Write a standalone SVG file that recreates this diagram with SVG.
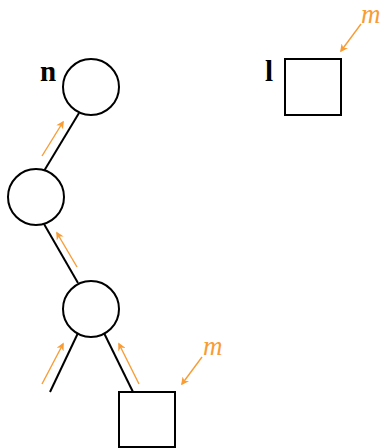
<svg xmlns="http://www.w3.org/2000/svg" width="388" height="448" viewBox="0 0 388 448">
<style>
.node{fill:#fff;stroke:#000;stroke-width:2}
.edge{stroke:#000;stroke-width:2;fill:none}
.msg{stroke:#f89c35;stroke-width:1.4;fill:none;marker-end:url(#ah)}
.lbl{font-family:"Liberation Serif",serif;font-weight:bold;font-size:29px;fill:#000}
.m{font-family:"Liberation Serif",serif;font-style:italic;font-size:27px;fill:#f89c35}
</style>
<defs>
<marker id="ah" viewBox="0 0 10 10" refX="8" refY="5" markerWidth="8" markerHeight="8" markerUnits="userSpaceOnUse" orient="auto">
<path d="M0,0 L10,5 L0,10 L3,5 Z" fill="#f89c35"/>
</marker>
</defs>
<g id="connectors">
<line class="edge" x1="79" y1="113" x2="44" y2="171"/>
<line class="edge" x1="44" y1="224" x2="78" y2="283"/>
<line class="edge" x1="78" y1="333" x2="50" y2="392"/>
<line class="edge" x1="104" y1="333" x2="133" y2="392"/>
<line class="msg" x1="42" y1="156" x2="63" y2="122"/>
<line class="msg" x1="77" y1="267" x2="57" y2="233"/>
<line class="msg" x1="42" y1="384" x2="63" y2="344"/>
<line class="msg" x1="139" y1="384" x2="119" y2="344"/>
<line class="msg" x1="202" y1="357" x2="182" y2="384"/>
<line class="msg" x1="361" y1="24" x2="341" y2="51"/>
</g>
<g id="node-n">
<circle class="node" cx="91" cy="87" r="28"/>
<text class="lbl" x="40" y="81">n</text>
</g>
<g id="node-mid">
<circle class="node" cx="36" cy="197" r="28"/>
</g>
<g id="node-low">
<circle class="node" cx="91" cy="309" r="28"/>
</g>
<g id="leaf-bottom">
<rect class="node" x="119" y="392" width="56" height="55"/>
<text class="m" x="203" y="355">m</text>
</g>
<g id="leaf-l">
<rect class="node" x="285" y="59" width="56" height="56"/>
<text class="lbl" x="265" y="81">l</text>
<text class="m" x="361" y="23">m</text>
</g>
</svg>
